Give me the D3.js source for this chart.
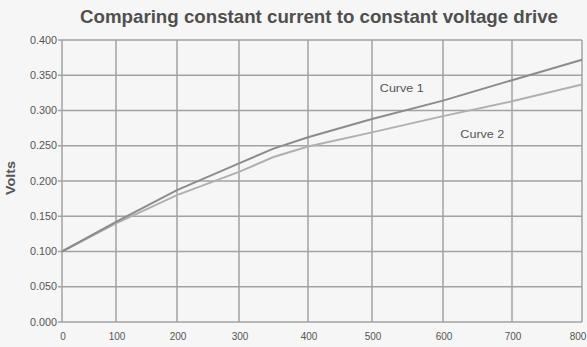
<!DOCTYPE html>
<html>
<head>
<meta charset="utf-8">
<script src="https://cdn.jsdelivr.net/npm/d3@7"></script>
<style>
  html, body { margin: 0; padding: 0; background: #f6f6f6; }
  svg { display: block; font-family: "Liberation Sans Narrow", "Liberation Sans", sans-serif; }
</style>
</head>
<body>
<div id="chart"></div>
<script>
// data
const xTicks = [0, 100, 200, 300, 400, 500, 600, 700, 800];
const yTicks = [0, 0.05, 0.1, 0.15, 0.2, 0.25, 0.3, 0.35, 0.4];
const xValues = [0, 100, 200, 300, 350, 400, 500, 600, 700, 800];
const curve1 = [0.100, 0.142, 0.187, 0.225, 0.246, 0.262, 0.288, 0.314, 0.343, 0.372];
const curve2 = [0.100, 0.140, 0.180, 0.213, 0.234, 0.249, 0.269, 0.292, 0.313, 0.337];
const curveLabels = [
  { name: "Curve 1", x: 542, y: 0.326 },
  { name: "Curve 2", x: 657, y: 0.261 }
];

const width = 587, height = 347;

const svg = d3.select("#chart").append("svg")
  .attr("width", width)
  .attr("height", height);

// the source grid is not evenly spaced, so the x scale is piecewise
const x = d3.scaleLinear()
  .domain(xTicks)
  .range([62, 116, 177, 239, 308, 372, 443, 512, 582]);

const y = d3.scaleLinear()
  .domain([0, 0.4])
  .range([322, 40]);

const gridColor = "#a2a2a2";
const textColor = "#555";

// title
svg.append("text")
  .attr("x", 319)
  .attr("y", 23)
  .attr("text-anchor", "middle")
  .attr("font-size", "19px")
  .attr("font-weight", "bold")
  .attr("fill", "#4f4f4f")
  .attr("textLength", 478)
  .attr("lengthAdjust", "spacingAndGlyphs")
  .text("Comparing constant current to constant voltage drive");

// grid
svg.append("g")
  .selectAll("line")
  .data(yTicks)
  .join("line")
  .attr("x1", x(0) - 4)
  .attr("x2", x(800))
  .attr("y1", d => y(d))
  .attr("y2", d => y(d))
  .attr("stroke", gridColor)
  .attr("stroke-width", 1.5);

svg.append("g")
  .selectAll("line")
  .data(xTicks)
  .join("line")
  .attr("x1", d => x(d))
  .attr("x2", d => x(d))
  .attr("y1", y(0.4))
  .attr("y2", y(0))
  .attr("stroke", gridColor)
  .attr("stroke-width", 1.5);

// y tick labels
svg.append("g")
  .selectAll("text")
  .data(yTicks)
  .join("text")
  .attr("x", x(0) - 5)
  .attr("y", d => y(d) + 3.5)
  .attr("text-anchor", "end")
  .attr("font-size", "10px")
  .attr("fill", textColor)
  .attr("textLength", 27)
  .attr("lengthAdjust", "spacingAndGlyphs")
  .text(d3.format(".3f"));

// x tick labels
svg.append("g")
  .selectAll("text")
  .data(xTicks)
  .join("text")
  .attr("x", d => d === 800 ? x(d) - 4 : x(d) + 1)
  .attr("y", 340)
  .attr("text-anchor", "middle")
  .attr("font-size", "10px")
  .attr("fill", textColor)
  .text(d => d);

// axis title
svg.append("text")
  .attr("transform", "translate(15,178) rotate(-90)")
  .attr("text-anchor", "middle")
  .attr("font-size", "13px")
  .attr("font-weight", "bold")
  .attr("fill", textColor)
  .attr("textLength", 34)
  .attr("lengthAdjust", "spacingAndGlyphs")
  .text("Volts");

// curves
const line = d3.line()
  .x((d, i) => x(xValues[i]))
  .y(d => y(d));

svg.append("path")
  .datum(curve2)
  .attr("d", line)
  .attr("fill", "none")
  .attr("stroke", "#b0b0b0")
  .attr("stroke-width", 2);

svg.append("path")
  .datum(curve1)
  .attr("d", line)
  .attr("fill", "none")
  .attr("stroke", "#8c8c8c")
  .attr("stroke-width", 2);

svg.append("g")
  .selectAll("text")
  .data(curveLabels)
  .join("text")
  .attr("x", d => x(d.x))
  .attr("y", d => y(d.y))
  .attr("text-anchor", "middle")
  .attr("font-size", "11px")
  .attr("fill", textColor)
  .attr("textLength", 44)
  .attr("lengthAdjust", "spacingAndGlyphs")
  .text(d => d.name);
</script>
</body>
</html>
